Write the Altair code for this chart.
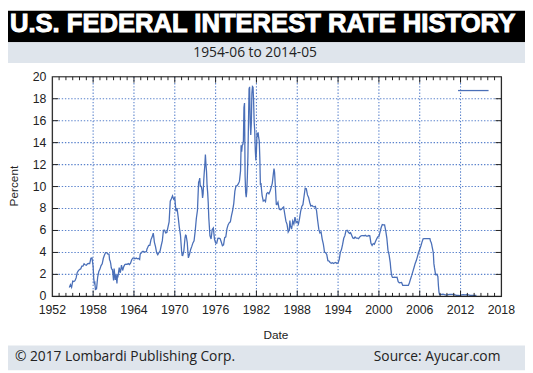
import altair as alt
import pandas as pd

TITLE = "U.S. FEDERAL INTEREST RATE HISTORY"
SUBTITLE = "1954-06 to 2014-05"
FOOT_LEFT = "© 2017 Lombardi Publishing Corp."
FOOT_RIGHT = "Source: Ayucar.com"
X_LABEL = "Date"
Y_LABEL = "Percent"

DATES = [
    "1954-07", "1954-09", "1954-11",
    "1955-01", "1955-03", "1955-05", "1955-07", "1955-09", "1955-11",
    "1956-01", "1956-03", "1956-05", "1956-07", "1956-09", "1956-11",
    "1957-01", "1957-03", "1957-05", "1957-07", "1957-09", "1957-11",
    "1958-01", "1958-02", "1958-03", "1958-04", "1958-05", "1958-07", "1958-09", "1958-11",
    "1959-01", "1959-03", "1959-05", "1959-07", "1959-09", "1959-11",
    "1960-01", "1960-03", "1960-05", "1960-06", "1960-07", "1960-08", "1960-09", "1960-10", "1960-11", "1960-12",
    "1961-01", "1961-02", "1961-03", "1961-04", "1961-05", "1961-06", "1961-07", "1961-08", "1961-09", "1961-10", "1961-11", "1961-12",
    "1962-01", "1962-03", "1962-05", "1962-07", "1962-09", "1962-11",
    "1963-01", "1963-03", "1963-05", "1963-07", "1963-09", "1963-11",
    "1964-01", "1964-03", "1964-05", "1964-07", "1964-09", "1964-11", "1964-12",
    "1965-01", "1965-03", "1965-05", "1965-07", "1965-09", "1965-11", "1965-12",
    "1966-01", "1966-03", "1966-05", "1966-07", "1966-09", "1966-11", "1966-12",
    "1967-01", "1967-03", "1967-05", "1967-07", "1967-09", "1967-11",
    "1968-01", "1968-03", "1968-05", "1968-07", "1968-09", "1968-11",
    "1969-01", "1969-03", "1969-05", "1969-07", "1969-09", "1969-11",
    "1970-01", "1970-03", "1970-05", "1970-07", "1970-09", "1970-11",
    "1971-01", "1971-02", "1971-03", "1971-05", "1971-07", "1971-08", "1971-09", "1971-11", "1971-12",
    "1972-01", "1972-03", "1972-05", "1972-07", "1972-09", "1972-11",
    "1973-01", "1973-03", "1973-05", "1973-07", "1973-08", "1973-09", "1973-10", "1973-11", "1973-12",
    "1974-01", "1974-02", "1974-03", "1974-04", "1974-05", "1974-06", "1974-07", "1974-08", "1974-09", "1974-10", "1974-11", "1974-12",
    "1975-01", "1975-03", "1975-05", "1975-07", "1975-09", "1975-11",
    "1976-01", "1976-03", "1976-05", "1976-07", "1976-09", "1976-11",
    "1977-01", "1977-03", "1977-05", "1977-07", "1977-09", "1977-11",
    "1978-01", "1978-03", "1978-05", "1978-07", "1978-09", "1978-11",
    "1979-01", "1979-03", "1979-05", "1979-07", "1979-09", "1979-10", "1979-11", "1979-12",
    "1980-01", "1980-02", "1980-03", "1980-04", "1980-05", "1980-06", "1980-07", "1980-08", "1980-09", "1980-10", "1980-11", "1980-12",
    "1981-01", "1981-02", "1981-03", "1981-04", "1981-05", "1981-06", "1981-07", "1981-08", "1981-09", "1981-10", "1981-11", "1981-12",
    "1982-01", "1982-02", "1982-03", "1982-04", "1982-05", "1982-06", "1982-07", "1982-08", "1982-09", "1982-10", "1982-11", "1982-12",
    "1983-01", "1983-03", "1983-05", "1983-07", "1983-09", "1983-11",
    "1984-01", "1984-03", "1984-05", "1984-07", "1984-08", "1984-09", "1984-11", "1984-12",
    "1985-01", "1985-03", "1985-05", "1985-07", "1985-09", "1985-11",
    "1986-01", "1986-03", "1986-05", "1986-07", "1986-09", "1986-11", "1986-12",
    "1987-01", "1987-03", "1987-05", "1987-07", "1987-09", "1987-11",
    "1988-01", "1988-03", "1988-05", "1988-07", "1988-09", "1988-11",
    "1989-01", "1989-03", "1989-05", "1989-07", "1989-09", "1989-11",
    "1990-01", "1990-03", "1990-05", "1990-07", "1990-09", "1990-11",
    "1991-01", "1991-03", "1991-05", "1991-07", "1991-09", "1991-11", "1991-12",
    "1992-01", "1992-03", "1992-05", "1992-07", "1992-09", "1992-11",
    "1993-01", "1993-03", "1993-05", "1993-07", "1993-09", "1993-11",
    "1994-01", "1994-03", "1994-05", "1994-07", "1994-09", "1994-11",
    "1995-01", "1995-03", "1995-05", "1995-07", "1995-09", "1995-11",
    "1996-01", "1996-03", "1996-05", "1996-07", "1996-09", "1996-11",
    "1997-01", "1997-03", "1997-05", "1997-07", "1997-09", "1997-11",
    "1998-01", "1998-03", "1998-05", "1998-07", "1998-09", "1998-11",
    "1999-01", "1999-03", "1999-05", "1999-07", "1999-09", "1999-11",
    "2000-01", "2000-03", "2000-05", "2000-07", "2000-09", "2000-11",
    "2001-01", "2001-03", "2001-05", "2001-07", "2001-09", "2001-10", "2001-11", "2001-12",
    "2002-01", "2002-03", "2002-05", "2002-07", "2002-09", "2002-11",
    "2003-01", "2003-03", "2003-05", "2003-07", "2003-09", "2003-11",
    "2004-01", "2004-03", "2004-05", "2004-07", "2004-09", "2004-11",
    "2005-01", "2005-03", "2005-05", "2005-07", "2005-09", "2005-11",
    "2006-01", "2006-03", "2006-05", "2006-07", "2006-09", "2006-11",
    "2007-01", "2007-03", "2007-05", "2007-07", "2007-08", "2007-09", "2007-10", "2007-11", "2007-12",
    "2008-01", "2008-02", "2008-03", "2008-05", "2008-07", "2008-09", "2008-10", "2008-11", "2008-12",
    "2009-03", "2009-06", "2009-09", "2009-12",
    "2010-03", "2010-06", "2010-09", "2010-12",
    "2011-03", "2011-06", "2011-09", "2011-12",
    "2012-03", "2012-06", "2012-09", "2012-12",
    "2013-03", "2013-06", "2013-09", "2013-12",
    "2014-03", "2014-05",
]

RATES = [
    0.80, 1.07, 0.83,
    1.39, 1.35, 1.43, 1.68, 2.18, 2.35,
    2.45, 2.50, 2.75, 2.75, 2.96, 2.88,
    2.84, 2.96, 3.00, 2.99, 3.47, 3.50,
    2.72, 1.67, 1.20, 1.26, 0.63, 0.68, 1.76, 2.27,
    2.48, 2.80, 2.96, 3.47, 3.76, 3.99,
    3.99, 3.84, 3.85, 3.32, 3.23, 2.98, 2.60, 2.47, 2.44, 1.98,
    1.45, 2.54, 2.02, 1.49, 1.98, 1.73, 1.17, 2.00, 1.88, 2.26, 2.62, 2.33,
    2.15, 2.85, 2.36, 2.71, 2.90, 2.94,
    2.92, 2.98, 2.90, 3.02, 3.34, 3.48,
    3.48, 3.43, 3.50, 3.42, 3.45, 3.36, 3.85,
    3.90, 4.04, 4.10, 4.04, 4.05, 4.08, 4.32,
    4.42, 4.65, 4.65, 5.17, 5.40, 5.76, 5.40,
    4.94, 4.53, 3.98, 3.79, 3.99, 4.12,
    4.61, 5.05, 6.02, 6.03, 5.78, 5.82,
    6.30, 6.79, 8.67, 8.90, 9.15, 8.85,
    8.98, 7.76, 8.03, 7.21, 6.29, 5.60,
    4.14, 3.72, 3.71, 4.15, 5.31, 5.57, 5.55, 4.91, 4.14,
    3.50, 3.83, 4.27, 4.55, 4.87, 5.06,
    5.94, 7.09, 7.84, 10.40, 10.50, 10.78, 10.01, 10.03, 9.95,
    9.65, 8.97, 9.35, 10.51, 11.31, 11.93, 12.92, 12.01, 11.34, 10.06, 9.45, 8.53,
    7.13, 5.54, 5.22, 6.10, 6.24, 5.22,
    4.87, 4.84, 5.29, 5.31, 5.25, 4.95,
    4.61, 4.69, 5.35, 5.42, 6.14, 6.51,
    6.70, 6.79, 7.36, 7.81, 8.45, 9.58,
    10.07, 10.09, 10.24, 10.47, 11.43, 13.77, 13.18, 13.78,
    13.82, 14.13, 17.19, 17.61, 10.98, 9.47, 9.03, 9.61, 10.87, 12.81, 15.85, 18.90,
    19.08, 15.93, 14.70, 15.72, 18.52, 19.10, 19.04, 17.82, 15.87, 15.08, 13.31, 12.37,
    13.22, 14.78, 14.68, 14.94, 14.45, 14.15, 12.59, 10.12, 10.31, 9.71, 9.20, 8.95,
    8.68, 8.77, 8.63, 9.37, 9.45, 9.34,
    9.56, 9.91, 10.32, 11.23, 11.64, 11.30, 9.43, 8.38,
    8.35, 8.58, 7.97, 7.88, 7.92, 8.05,
    8.14, 7.48, 6.85, 6.56, 5.85, 6.04, 6.91,
    6.43, 6.13, 6.85, 6.58, 7.22, 6.72,
    6.83, 6.58, 7.09, 7.75, 8.19, 8.35,
    9.12, 9.85, 9.81, 9.24, 9.01, 8.55,
    8.23, 8.28, 8.18, 8.15, 8.20, 7.81,
    6.91, 6.12, 5.78, 5.86, 5.22, 4.76, 4.43,
    4.03, 3.98, 3.82, 3.25, 3.22, 3.09,
    3.02, 3.07, 3.00, 3.06, 3.09, 2.99,
    3.05, 3.34, 4.01, 4.26, 4.73, 5.29,
    5.53, 5.98, 6.02, 5.85, 5.74, 5.80,
    5.56, 5.31, 5.27, 5.40, 5.30, 5.31,
    5.25, 5.39, 5.50, 5.54, 5.54, 5.52,
    5.56, 5.49, 5.49, 5.54, 5.51, 4.83,
    4.63, 4.81, 4.74, 4.99, 5.22, 5.42,
    5.45, 5.85, 6.27, 6.54, 6.52, 6.51,
    5.98, 5.31, 4.21, 3.77, 3.07, 2.49, 2.09, 1.82,
    1.73, 1.73, 1.75, 1.73, 1.75, 1.34,
    1.24, 1.25, 1.26, 1.01, 1.01, 1.00,
    1.00, 1.00, 1.00, 1.26, 1.61, 1.93,
    2.28, 2.63, 3.00, 3.26, 3.62, 4.00,
    4.29, 4.59, 4.94, 5.24, 5.25, 5.25,
    5.25, 5.26, 5.25, 5.26, 5.02, 4.94, 4.76, 4.49, 4.24,
    3.94, 2.98, 2.61, 1.98, 2.01, 1.81, 0.97, 0.39, 0.16,
    0.18, 0.21, 0.15, 0.12,
    0.16, 0.18, 0.19, 0.18,
    0.14, 0.09, 0.08, 0.07,
    0.13, 0.16, 0.14, 0.16,
    0.14, 0.09, 0.08, 0.09,
    0.08, 0.09,
]

X_TICKS = [1952, 1958, 1964, 1970, 1976, 1982, 1988, 1994, 2000, 2006, 2012, 2018]
Y_TICKS = [0, 2, 4, 6, 8, 10, 12, 14, 16, 18, 20]
MINOR_YEARS = [1953, 1954, 1955, 1956, 1957, 1959, 1960, 1961, 1962, 1963,
               1965, 1966, 1967, 1968, 1969, 1971, 1972, 1973, 1974, 1975,
               1977, 1978, 1979, 1980, 1981, 1983, 1984, 1985, 1986, 1987,
               1989, 1990, 1991, 1992, 1993, 1995, 1996, 1997, 1998, 1999,
               2001, 2002, 2003, 2004, 2005, 2007, 2008, 2009, 2010, 2011,
               2013, 2014, 2015, 2016, 2017]

assert len(DATES) == len(RATES)
yr = [int(d[:4]) + (int(d[5:7]) - 1) / 12.0 for d in DATES]
df = pd.DataFrame({"yr": yr, "rate": RATES})

W, H = 456, 223
PAD_L, PAD_T, PAD_R, PAD_B = 45, 67, 24, 75
LINE = "#4a6fb8"
GRID = "#5a82cc"
INK = "#222222"
BAND = "#dfe5ec"

xs = alt.Scale(domain=[1952, 2018], nice=False, zero=False)
ys = alt.Scale(domain=[0, 20], nice=False, zero=False)

one = pd.DataFrame({"k": [0]})


def txt(s):
    return pd.DataFrame({"t": [s]})


def X(field):
    return alt.X(field, scale=xs, axis=None)


def Y(field):
    return alt.Y(field, scale=ys, axis=None)


# header and footer bands
header = alt.Chart(one).mark_rect(color="black").encode(
    x=alt.value(-PAD_L), x2=alt.value(W + PAD_R), y=alt.value(-PAD_T), y2=alt.value(-35))
subband = alt.Chart(one).mark_rect(color=BAND).encode(
    x=alt.value(-PAD_L), x2=alt.value(W + PAD_R), y=alt.value(-35), y2=alt.value(-14))
footband = alt.Chart(one).mark_rect(color=BAND).encode(
    x=alt.value(-PAD_L), x2=alt.value(W + PAD_R), y=alt.value(273), y2=alt.value(H + PAD_B))

title = alt.Chart(txt(TITLE)).mark_text(
    font="Liberation Sans", fontSize=26, fontWeight="bold", color="white",
    stroke="white", strokeWidth=1.0, align="center", baseline="middle").encode(
    text="t:N", x=alt.value(213.5), y=alt.value(-53))
subtitle = alt.Chart(txt(SUBTITLE)).mark_text(
    font="Open Sans", fontSize=14, color=INK, align="center", baseline="middle").encode(
    text="t:N", x=alt.value(206), y=alt.value(-24))
foot_l = alt.Chart(txt(FOOT_LEFT)).mark_text(
    font="Open Sans", fontSize=14, color=INK, align="left", baseline="middle").encode(
    text="t:N", x=alt.value(-38), y=alt.value(285))
foot_r = alt.Chart(txt(FOOT_RIGHT)).mark_text(
    font="Open Sans", fontSize=14, color=INK, align="right", baseline="middle").encode(
    text="t:N", x=alt.value(455), y=alt.value(285))

ylab = alt.Chart(txt(Y_LABEL)).mark_text(
    font="Liberation Sans", fontSize=12, color=INK, angle=270, align="center", baseline="middle").encode(
    text="t:N", x=alt.value(-39), y=alt.value(111))
xlab = alt.Chart(txt(X_LABEL)).mark_text(
    font="Liberation Sans", fontSize=12, color=INK, align="center", baseline="middle").encode(
    text="t:N", x=alt.value(227), y=alt.value(262))

# tick labels
xlabels = alt.Chart(pd.DataFrame({"yr": X_TICKS})).mark_text(
    font="Liberation Sans", fontSize=12.5, color=INK, align="center", baseline="middle").encode(
    x=X("yr:Q"), y=alt.value(H + 14), text=alt.Text("yr:Q", format="d"))
ylabels = alt.Chart(pd.DataFrame({"rate": Y_TICKS})).mark_text(
    font="Liberation Sans", fontSize=12.5, color=INK, align="right", baseline="middle").encode(
    y=Y("rate:Q"), x=alt.value(-6), text=alt.Text("rate:Q", format="d"))

# grid
grid_x = alt.Chart(pd.DataFrame({"yr": X_TICKS[1:-1]})).mark_rule(
    color=GRID, strokeDash=[1.4, 1.8], strokeWidth=1.1).encode(
    x=X("yr:Q"), y=alt.value(0), y2=alt.value(H))
grid_y = alt.Chart(pd.DataFrame({"rate": Y_TICKS[1:-1]})).mark_rule(
    color=GRID, strokeDash=[1.4, 1.8], strokeWidth=1.1).encode(
    y=Y("rate:Q"), x=alt.value(0), x2=alt.value(W))

# series line
line = alt.Chart(df).mark_line(color=LINE, strokeWidth=1.3).encode(
    x=X("yr:Q"), y=Y("rate:Q"))

# inward ticks
minor_df = pd.DataFrame({"yr": MINOR_YEARS})
major_df = pd.DataFrame({"yr": X_TICKS[1:-1]})
ymaj_df = pd.DataFrame({"rate": Y_TICKS[1:-1]})
tk = dict(color=INK, strokeWidth=1)
ticks = [
    alt.Chart(minor_df).mark_rule(**tk).encode(x=X("yr:Q"), y=alt.value(H - 3.5), y2=alt.value(H)),
    alt.Chart(minor_df).mark_rule(**tk).encode(x=X("yr:Q"), y=alt.value(0), y2=alt.value(3.5)),
    alt.Chart(major_df).mark_rule(**tk).encode(x=X("yr:Q"), y=alt.value(H - 6), y2=alt.value(H)),
    alt.Chart(major_df).mark_rule(**tk).encode(x=X("yr:Q"), y=alt.value(0), y2=alt.value(6)),
    alt.Chart(ymaj_df).mark_rule(**tk).encode(y=Y("rate:Q"), x=alt.value(0), x2=alt.value(6)),
    alt.Chart(ymaj_df).mark_rule(**tk).encode(y=Y("rate:Q"), x=alt.value(W - 6), x2=alt.value(W)),
]

frame = alt.Chart(one).mark_rect(fill=None, stroke=INK, strokeWidth=1.2).encode(
    x=alt.value(0), x2=alt.value(W), y=alt.value(0), y2=alt.value(H))

legend_line = alt.Chart(one).mark_rule(color=LINE, strokeWidth=1.3).encode(
    x=alt.value(412), x2=alt.value(443), y=alt.value(14))

chart = alt.layer(
    header, subband, footband, grid_x, grid_y, line, *ticks, frame, legend_line,
    xlabels, ylabels, title, subtitle, foot_l, foot_r, ylab, xlab,
).properties(
    width=W, height=H,
    padding={"left": PAD_L, "top": PAD_T, "right": PAD_R, "bottom": PAD_B},
    autosize=alt.AutoSizeParams(type="none"),
).configure_view(stroke=None).configure(background="white")

chart.save("out.html", embed_options={"renderer": "svg", "actions": False})
